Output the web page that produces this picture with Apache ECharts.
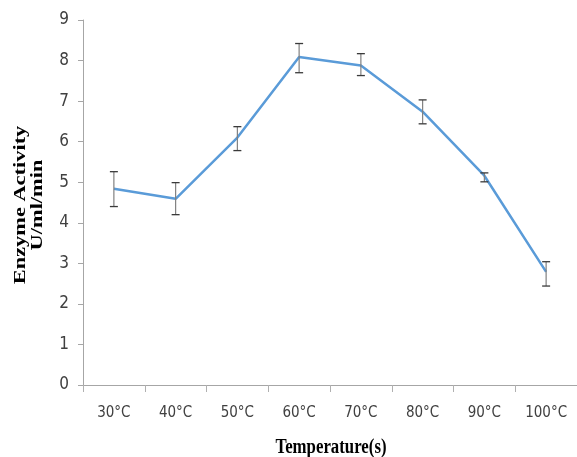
<!DOCTYPE html>
<html>
<head>
<meta charset="utf-8">
<script src="https://cdn.jsdelivr.net/npm/echarts@6/dist/echarts.min.js"></script>
<style>html,body{margin:0;padding:0;background:#fff}#c{width:577px;height:457px}</style>
</head>
<body>
<div id="c"></div>
<script>
const categories = ['30°C','40°C','50°C','60°C','70°C','80°C','90°C','100°C'];
const activity = [4.84, 4.59, 6.10, 8.09, 7.88, 6.74, 5.16, 2.79];
const errLow  = [4.40, 4.20, 5.78, 7.70, 7.63, 6.44, 5.01, 2.44];
const errHigh = [5.26, 4.99, 6.37, 8.42, 8.17, 7.03, 5.23, 3.04];
const yTicks = [0,1,2,3,4,5,6,7,8,9];

const tickFont = '"Liberation Sans Narrow", "DejaVu Sans Condensed", "Arial Narrow", sans-serif';
const chart = echarts.init(document.getElementById('c'), null, {renderer:'canvas'});
chart.setOption({
  animation: false,
  backgroundColor: '#ffffff',
  grid: {left: 83, right: -3, top: 20, bottom: 72, containLabel: false},
  xAxis: {
    type: 'category',
    data: categories,
    boundaryGap: true,
    axisLine: {lineStyle: {color: '#a6a6a6', width: 1}},
    axisTick: {show: true, length: 7, alignWithLabel: false, lineStyle: {color: '#b0b0b0'}},
    axisLabel: {margin: 21, fontFamily: tickFont, fontSize: 15, color: '#404040', interval: 0},
    splitLine: {show: false}
  },
  yAxis: {
    type: 'value',
    min: yTicks[0],
    max: yTicks[yTicks.length - 1],
    interval: 1,
    axisLine: {show: true, lineStyle: {color: '#a6a6a6', width: 1}},
    axisTick: {show: true, length: 5, lineStyle: {color: '#a6a6a6'}},
    axisLabel: {margin: 14, fontFamily: tickFont, fontSize: 17, color: '#404040'},
    splitLine: {show: false}
  },
  graphic: [
    {type: 'text', x: 29, y: 205, rotation: Math.PI / 2, scaleX: 1.4, scaleY: 1,
     style: {text: 'Enzyme Activity\nU/ml/min', align: 'center', verticalAlign: 'middle',
             font: 'bold 16px "Liberation Serif", "Times New Roman", serif', lineHeight: 17, fill: '#000'}},
    {type: 'text', x: 331, y: 447, scaleX: 1.05, scaleY: 1.35,
     style: {text: 'Temperature(s)', align: 'center', verticalAlign: 'middle',
             font: 'bold 16px "Liberation Serif", "Times New Roman", serif', fill: '#000'}}
  ],
  series: [
    {
      type: 'line',
      data: activity,
      symbol: 'none',
      lineStyle: {color: '#5a9bd8', width: 2.5},
      z: 2
    },
    {
      type: 'custom',
      z: 3,
      data: categories.map((c, i) => [i, errLow[i], errHigh[i]]),
      renderItem: function (params, api) {
        const x = api.value(0);
        const lo = api.coord([x, api.value(1)]);
        const hi = api.coord([x, api.value(2)]);
        const hw = 4;
        const st = {stroke: '#3a3a3a', lineWidth: 1.3};
        return {
          type: 'group',
          children: [
            {type: 'line', shape: {x1: lo[0], y1: lo[1], x2: hi[0], y2: hi[1]}, style: {stroke: '#808080', lineWidth: 1.2}},
            {type: 'line', shape: {x1: lo[0] - hw, y1: lo[1], x2: lo[0] + hw, y2: lo[1]}, style: st},
            {type: 'line', shape: {x1: hi[0] - hw, y1: hi[1], x2: hi[0] + hw, y2: hi[1]}, style: st}
          ]
        };
      }
    }
  ]
});
</script>
</body>
</html>
